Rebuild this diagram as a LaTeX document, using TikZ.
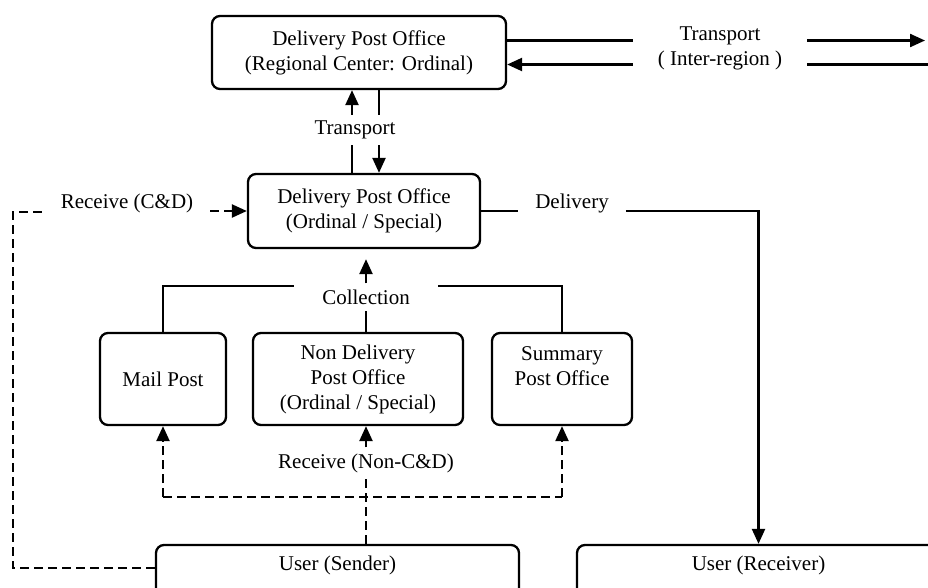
\documentclass[tikz,border=0pt]{standalone}
\usepackage{fontspec}
\setmainfont{Liberation Serif}
\usepackage{tikz}
\usetikzlibrary{positioning,arrows.meta}
\tikzset{
  office/.style={draw, rounded corners=8pt, line width=2.3pt, align=center, inner sep=0pt},
  note/.style={align=center, inner xsep=17pt, inner ysep=6pt},
  line/.style={line width=2.3pt},
  arrow/.style={line width=2.3pt, -{Triangle[length=15pt,width=13pt]}},
  dline/.style={line width=2.3pt, dash pattern=on 9pt off 5pt},
  darrow/.style={dline, -{Triangle[length=15pt,width=13pt]}}
}
\begin{document}
\begin{tikzpicture}[x=1pt, y=-1pt, font=\fontsize{21}{25}\selectfont]
    \useasboundingbox (0,0) rectangle (928,587);
    \clip (0,0) rectangle (928,587);

    \node[office, minimum width=294pt, minimum height=73pt] (regional) at (359,52.5) {Delivery Post Office\\(Regional Center: Ordinal)};
    \node[office, minimum width=232pt, minimum height=74pt] (ordinal) at (364,211) {Delivery Post Office\\(Ordinal / Special)};

    \node[office, minimum width=126pt, minimum height=92pt] (mailpost) at (163,379) {Mail Post};
    \node[office, minimum width=210pt, minimum height=92pt] (nondelivery) at (358,379) {Non Delivery\\Post Office\\(Ordinal / Special)};
    \node[office, minimum width=140pt, minimum height=92pt] (summary) at (562,379) {Summary\\Post Office\\\mbox{}};

    \node[office, minimum width=363pt, minimum height=74pt] (sender) at (337.5,582) {};
    \node[office, minimum width=363pt, minimum height=74pt] (receiver) at (758.5,582) {};
    \node[below=9pt of sender.north] (sendertxt) {User (Sender)};
    \node[below=9pt of receiver.north] (receivertxt) {User (Receiver)};

    % labels on the connectors
    \node[note, inner xsep=25pt] (interlbl) at (720,48) {Transport\\( Inter-region )};
    \node[note] (transport) at (355,130) {Transport};
    \node[note] (receivecd) at (127,203) {Receive (C\&D)};
    \node[note] (delivery) at (572,203) {Delivery};
    \node[note, inner xsep=28pt] (collection) at (366,297) {Collection};
    \node[note] (receivenc) at (366,463) {Receive (Non-C\&D)};

    \coordinate (rightedge) at (925,0);
    \coordinate (offpage) at (940,0);
    \coordinate (leftturn) at (13,212);
    \coordinate (branch) at (366,497);

    % inter-region transport
    \draw[line] ([yshift=12pt]regional.east) -- ([yshift=12pt]regional.east -| interlbl.west);
    \draw[arrow] ([yshift=12pt]regional.east -| interlbl.east) -- ([yshift=12pt]regional.east -| rightedge);
    \draw[arrow] ([yshift=-12pt]regional.east -| interlbl.west) -- ([yshift=-12pt]regional.east);
    \draw[line] ([yshift=-12pt]regional.east -| interlbl.east) -- ([yshift=-12pt]regional.east -| offpage);

    % transport between the two delivery offices
    \draw[line] ([xshift=-12pt]ordinal.north) -- ([xshift=-12pt]ordinal.north |- transport.south);
    \draw[arrow] ([xshift=-12pt]ordinal.north |- transport.north) -- ([xshift=-12pt]ordinal.north |- regional.south);
    \draw[line] ([xshift=15pt]ordinal.north |- regional.south) -- ([xshift=15pt]ordinal.north |- transport.north);
    \draw[arrow] ([xshift=15pt]ordinal.north |- transport.south) -- ([xshift=15pt]ordinal.north);

    % receive (C&D)
    \draw[dline] ([yshift=14pt]sender.west) -| (leftturn) -- (leftturn -| receivecd.west);
    \draw[darrow] (receivecd.east |- ordinal.west) -- (ordinal.west);

    % delivery
    \draw[line] (ordinal.east) -- (ordinal.east -| delivery.west);
    \draw[arrow] (ordinal.east -| delivery.east) -| (receiver.north);

    % collection
    \draw[arrow, shorten >=10pt] (collection.north) -- (collection.north |- ordinal.south);
    \draw[line] (collection.south |- nondelivery.north) -- (collection.south);
    \draw[line] (mailpost.north) |- ([yshift=11pt]collection.west);
    \draw[line] (summary.north) |- ([yshift=11pt]collection.east);

    % receive (non-C&D)
    \draw[darrow] (receivenc.north) -- (receivenc.north |- nondelivery.south);
    \draw[dline] (receivenc.south |- sender.north) -- (receivenc.south);
    \draw[dline] (branch -| mailpost.south) -- (branch -| summary.south);
    \draw[darrow] (branch -| mailpost.south) -- (mailpost.south);
    \draw[darrow] (branch -| summary.south) -- (summary.south);
\end{tikzpicture}
\end{document}
